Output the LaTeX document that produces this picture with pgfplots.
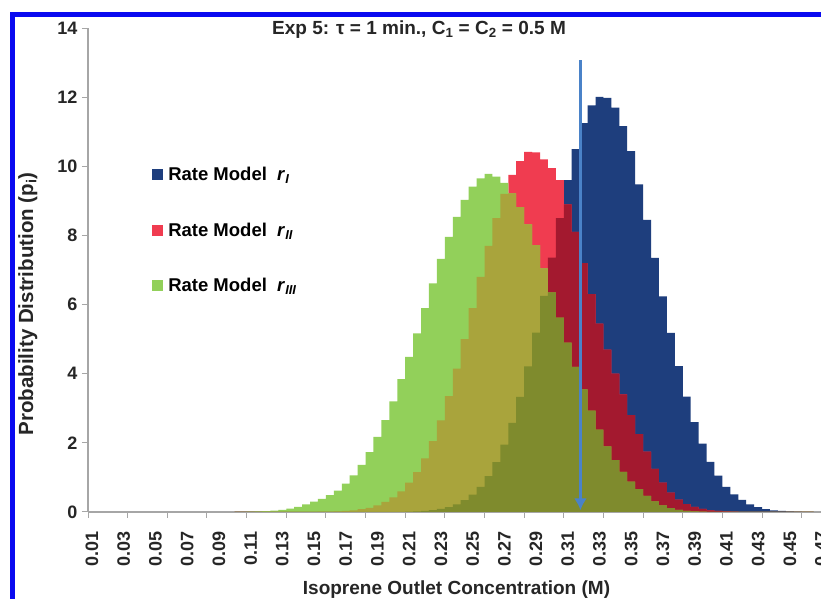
\documentclass[border=0pt]{standalone}
\usepackage{fontspec}
\setmainfont{Liberation Sans}
\usepackage{pgfplots}
\pgfplotsset{compat=1.18}
\usepackage{pgfplotstable}
\usetikzlibrary{arrows.meta}
\definecolor{cB}{RGB}{30,62,125}
\definecolor{cR}{RGB}{240,60,80}
\definecolor{cG}{RGB}{146,208,90}
\definecolor{cRB}{RGB}{163,25,47}
\definecolor{cGR}{RGB}{169,164,60}
\definecolor{cGRB}{RGB}{127,139,45}
\definecolor{cArrow}{RGB}{74,130,200}
\definecolor{cFrame}{RGB}{10,10,240}

\pgfplotstableread{
x     b      r      g
0.100 0      0      0
0.105 0      0      0
0.110 0      0      0.010
0.115 0      0      0.015
0.120 0      0      0.025
0.125 0      0      0.040
0.130 0      0      0.060
0.135 0      0      0.100
0.140 0      0      0.150
0.145 0      0      0.220
0.150 0      0.005  0.300
0.155 0      0.008  0.380
0.160 0      0.012  0.490
0.165 0      0.020  0.620
0.170 0      0.030  0.820
0.175 0      0.050  1.060
0.180 0      0.080  1.360
0.185 0      0.120  1.730
0.190 0.001  0.190  2.170
0.195 0.002  0.290  2.660
0.200 0.003  0.420  3.200
0.205 0.005  0.600  3.840
0.210 0.011  0.850  4.490
0.215 0.019  1.150  5.170
0.220 0.033  1.550  5.900
0.225 0.055  2.050  6.610
0.230 0.090  2.650  7.320
0.235 0.140  3.350  7.960
0.240 0.220  4.150  8.540
0.245 0.340  5.000  9.030
0.250 0.500  5.900  9.410
0.255 0.730  6.800  9.650
0.260 1.040  7.700  9.780
0.265 1.440  8.500  9.700
0.270 1.950  9.200  9.520
0.275 2.580  9.750  9.220
0.280 3.330  10.150 8.820
0.285 4.210  10.420 8.320
0.290 5.190  10.400 7.720
0.295 6.250  10.200 7.050
0.300 7.360  9.950  6.350
0.305 8.500  9.600  5.620
0.310 9.600  8.900  4.900
0.315 10.500 8.100  4.200
0.320 11.250 7.200  3.550
0.325 11.760 6.300  2.930
0.330 12.010 5.450  2.380
0.335 11.980 4.700  1.900
0.340 11.700 4.000  1.500
0.345 11.160 3.400  1.160
0.350 10.440 2.800  0.880
0.355 9.480  2.250  0.660
0.360 8.450  1.750  0.470
0.365 7.350  1.250  0.310
0.370 6.240  0.850  0.190
0.375 5.180  0.560  0.110
0.380 4.220  0.360  0.060
0.385 3.340  0.230  0.035
0.390 2.600  0.150  0.020
0.395 1.980  0.090  0.010
0.400 1.450  0.050  0.005
0.405 1.050  0.030  0
0.410 0.730  0.020  0
0.415 0.510  0.010  0
0.420 0.350  0.005  0
0.425 0.220  0      0
0.430 0.140  0      0
0.435 0.085  0      0
0.440 0.050  0      0
0.445 0.030  0      0
0.450 0.018  0      0
0.455 0.010  0      0
0.460 0.005  0      0
0.465 0      0      0
}\data

\begin{document}
\begin{tikzpicture}[x=1pt,y=1pt]
\useasboundingbox (0,0) rectangle (821,599);
\clip (0,0) rectangle (821,599);
\fill[white] (0,0) rectangle (821,599);
\draw[cFrame, line width=5pt] (12.5,-10) -- (12.5,584.5) -- (840,584.5);
\begin{axis}[
  at={(88pt,87pt)}, anchor=south west,
  x=1586pt, y=34.57pt,
  xmin=0.0075, xmax=0.49, ymin=0, ymax=14,
  axis x line*=bottom, axis y line*=left,
  axis line style={draw=black!35, line width=1.2pt},
  tick style={draw=black!35, line width=1pt},
  tick align=outside, major tick length=6pt,
  ytick={0,2,...,14},
  xtick={0.0075,0.0325,...,0.4825},
  xticklabels={},
  extra x ticks={0.01,0.03,...,0.47},
  extra x tick labels={0.01,0.03,0.05,0.07,0.09,0.11,0.13,0.15,0.17,0.19,0.21,0.23,0.25,0.27,0.29,0.31,0.33,0.35,0.37,0.39,0.41,0.43,0.45,0.47},
  extra x tick style={tick style={draw=none}},
  /pgf/number format/assume math mode=true,
  ticklabel style={font=\fontsize{18}{20}\selectfont\bfseries, text=black!85},
  xticklabel style={yshift=-10pt, rotate=90, anchor=east},
  yticklabel style={anchor=east, xshift=-1pt},
  legend style={at={(axis cs:0.0479,10.03)}, anchor=north west, draw=none, fill=none,
    inner sep=0pt, row sep=36.5pt, column sep=3pt, font=\fontsize{18.5}{20}\selectfont\bfseries},
  legend cell align=left,
  legend image code/.code={\fill[#1] (0pt,-5.5pt) rectangle (11pt,5.5pt);},
]
\addplot[fill=cB, draw=none, const plot mark mid] table[x=x,y=b]{\data} \closedcycle;
\addlegendentry{Rate Model\ \ \textit{r}\textsubscript{\textit{I}}}
\addplot[fill=cR, draw=none, const plot mark mid] table[x=x,y=r]{\data} \closedcycle;
\addlegendentry{Rate Model\ \ \textit{r}\textsubscript{\textit{II}}}
\addplot[fill=cG, draw=none, const plot mark mid] table[x=x,y=g]{\data} \closedcycle;
\addlegendentry{Rate Model\ \ \textit{r}\textsubscript{\textit{III}}}
\addplot[forget plot, fill=cRB, draw=none, const plot mark mid] table[x=x,y expr={min(\thisrow{r},\thisrow{b})}]{\data} \closedcycle;
\addplot[forget plot, fill=cGR, draw=none, const plot mark mid] table[x=x,y expr={min(\thisrow{g},\thisrow{r})}]{\data} \closedcycle;
\addplot[forget plot, fill=cGRB, draw=none, const plot mark mid] table[x=x,y expr={min(min(\thisrow{g},\thisrow{r}),\thisrow{b})}]{\data} \closedcycle;
\addplot[forget plot, cArrow, line width=2.8pt, -{Latex[length=12pt,width=13pt]}] coordinates {(0.318,13.07) (0.318,0.05)};
\end{axis}
\node[anchor=base, font=\fontsize{19}{22}\selectfont\bfseries, text=black!85] at (419,564.5) {Exp 5: τ = 1 min., C\textsubscript{1} = C\textsubscript{2} = 0.5 M};
\node[anchor=base, font=\fontsize{19}{22}\selectfont\bfseries, text=black!85] at (456.5,5) {Isoprene Outlet Concentration (M)};
\node[anchor=base, rotate=90, font=\fontsize{20.5}{23}\selectfont\bfseries, text=black!85] at (33,295) {Probability Distribution (p\textsubscript{i})};
\end{tikzpicture}
\end{document}
